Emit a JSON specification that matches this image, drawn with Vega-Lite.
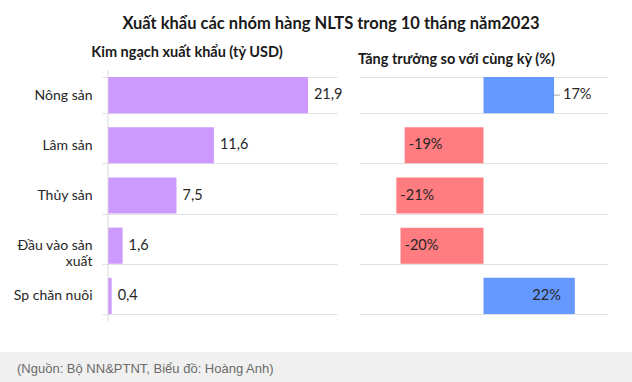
{
  "$schema": "https://vega.github.io/schema/vega-lite/v6.json",
  "padding": {"left": 0, "right": 0, "top": 16, "bottom": 0},
  "background": "white",
  "datasets": {
    "main": [
      {"cat": "Nông sản", "value": 21.9, "growth": 0.17},
      {"cat": "Lâm sản", "value": 11.6, "growth": -0.19},
      {"cat": "Thủy sản", "value": 7.5, "growth": -0.21},
      {"cat": "Đầu vào sản xuất", "value": 1.6, "growth": -0.20},
      {"cat": "Sp chăn nuôi", "value": 0.4, "growth": 0.22}
    ],
    "note": [{"note": "(Nguồn: Bộ NN&PTNT, Biểu đồ: Hoàng Anh)"}]
  },
  "title": {
    "text": "Xuất khẩu các nhóm hàng NLTS trong 10 tháng năm2023",
    "font": "Lato", "fontSize": 16.5, "fontWeight": "bold", "color": "#1a1a1a",
    "anchor": "middle", "dx": 15, "offset": 12
  },
  "spacing": 30,
  "vconcat": [
    {
      "spacing": 0,
      "hconcat": [
        {
          "width": 13,
          "height": 251,
          "data": {"values": []},
          "mark": "point"
        },
        {
          "spacing": 14,
          "hconcat": [
            {
              "width": 235,
              "height": 251,
              "title": {"text": "Kim ngạch xuất khẩu (tỷ USD)", "font": "Lato", "fontSize": 14.5, "fontWeight": "bold", "color": "#1a1a1a", "frame": "group", "anchor": "middle", "dx": -32.5, "offset": 3},
              "data": {"name": "main"},
              "layer": [
                {
                  "mark": {"type": "bar", "color": "#cc99ff"},
                  "encoding": {
                    "y": {"field": "cat", "type": "nominal", "sort": null,
                      "scale": {"paddingInner": 0.28, "paddingOuter": 0.14},
                      "axis": {"title": null, "domain": false, "ticks": false, "labelPadding": 10, "labelFont": "Lato", "labelFontSize": 14, "labelColor": "#262626", "labelLimit": 200, "grid": true, "tickBand": "extent", "gridColor": "#e3e3e3",
                        "labelExpr": "datum.value == 'Đầu vào sản xuất' ? ['Đầu vào sản', 'xuất'] : datum.value"}},
                    "x": {"field": "value", "type": "quantitative", "scale": {"domain": [-0.657, 25.08], "nice": false, "zero": false}, "axis": null}
                  }
                },
                {
                  "data": {"values": [{"zero": 0}]},
                  "mark": {"type": "rule", "color": "#d9d9d9"},
                  "encoding": {"x": {"field": "zero", "type": "quantitative"}}
                },
                {
                  "mark": {"type": "text", "align": "left", "baseline": "middle", "dx": 6, "font": "Lato", "fontSize": 14.5, "color": "#262626"},
                  "encoding": {
                    "y": {"field": "cat", "type": "nominal", "sort": null},
                    "x": {"field": "value", "type": "quantitative"},
                    "text": {"field": "value", "type": "quantitative", "format": ".1f"}
                  }
                }
              ]
            },
            {
              "width": 249,
              "height": 251,
              "title": {"text": "Tăng trưởng so với cùng kỳ (%)", "font": "Lato", "fontSize": 14.5, "fontWeight": "bold", "color": "#1a1a1a", "frame": "group", "anchor": "middle", "dx": -27, "offset": 3},
              "data": {"name": "main"},
              "layer": [
                {
                  "mark": {"type": "bar"},
                  "encoding": {
                    "y": {"field": "cat", "type": "nominal", "sort": null,
                      "scale": {"paddingInner": 0.28, "paddingOuter": 0.14},
                      "axis": {"title": null, "domain": false, "ticks": false, "labels": false, "grid": true, "tickBand": "extent", "gridColor": "#e3e3e3"}},
                    "x": {"field": "growth", "type": "quantitative", "scale": {"domain": [-0.30, 0.30], "nice": false, "zero": false}, "axis": null},
                    "color": {"condition": {"test": "datum.growth > 0", "value": "#6699ff"}, "value": "#ff7c80"}
                  }
                },
                {
                  "transform": [{"filter": "datum.growth > 0 && datum.growth < 0.2"}],
                  "mark": {"type": "rule", "color": "#a6a6a6", "x2Offset": 6},
                  "encoding": {
                    "y": {"field": "cat", "type": "nominal", "sort": null},
                    "x": {"field": "growth", "type": "quantitative"},
                    "x2": {"field": "growth"}
                  }
                },
                {
                  "transform": [{"filter": "datum.growth > 0 && datum.growth < 0.2"}],
                  "mark": {"type": "text", "align": "left", "baseline": "middle", "dx": 9, "font": "Lato", "fontSize": 14.5, "color": "#262626"},
                  "encoding": {
                    "y": {"field": "cat", "type": "nominal", "sort": null},
                    "x": {"field": "growth", "type": "quantitative"},
                    "text": {"field": "growth", "type": "quantitative", "format": ".0%"}
                  }
                },
                {
                  "transform": [{"filter": "datum.growth >= 0.2"}],
                  "mark": {"type": "text", "align": "right", "baseline": "middle", "dx": -14, "font": "Lato", "fontSize": 14.5, "color": "#262626"},
                  "encoding": {
                    "y": {"field": "cat", "type": "nominal", "sort": null},
                    "x": {"field": "growth", "type": "quantitative"},
                    "text": {"field": "growth", "type": "quantitative", "format": ".0%"}
                  }
                },
                {
                  "transform": [{"filter": "datum.growth < 0"}],
                  "mark": {"type": "text", "align": "left", "baseline": "middle", "dx": 4, "font": "Lato", "fontSize": 14.5, "color": "#262626"},
                  "encoding": {
                    "y": {"field": "cat", "type": "nominal", "sort": null},
                    "x": {"field": "growth", "type": "quantitative"},
                    "text": {"field": "growth", "type": "quantitative", "format": ".0%"}
                  }
                }
              ]
            }
          ]
        }
      ]
    },
    {
      "width": 632,
      "height": 31,
      "data": {"name": "note"},
      "view": {"fill": "#f0f0f0", "stroke": null},
      "mark": {"type": "text", "align": "left", "baseline": "middle", "dx": 17, "dy": 1.5, "font": "Liberation Sans", "fontSize": 13, "color": "#6b6b6b"},
      "encoding": {
        "x": {"value": 0},
        "text": {"field": "note", "type": "nominal"}
      }
    }
  ],
  "config": {
    "view": {"stroke": null},
    "font": "Lato",
    "locale": {"number": {"decimal": ",", "thousands": ".", "grouping": [3], "currency": ["", " đ"], "minus": "-", "percent": "%"}}
  }
}
